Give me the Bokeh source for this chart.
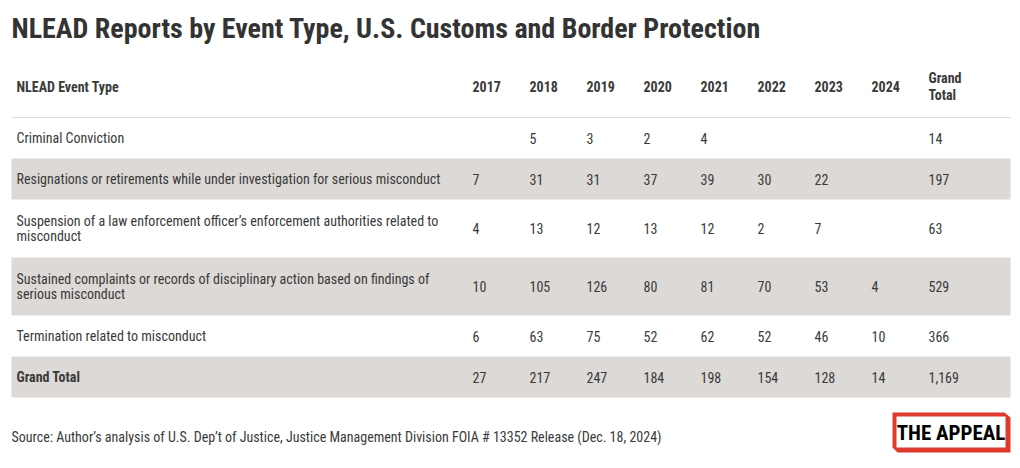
from bokeh.plotting import figure
from bokeh.models import Range1d
from bokeh.core.properties import value
from bokeh.embed import file_html
from bokeh.resources import INLINE

title = "NLEAD Reports by Event Type, U.S. Customs and Border Protection"
source_note = ("Source: Author\u2019s analysis of U.S. Dep\u2019t of Justice, Justice Management "
               "Division FOIA # 13352 Release (Dec. 18, 2024)")
first_col_header = "NLEAD Event Type"
col_headers = ["2017", "2018", "2019", "2020", "2021", "2022", "2023", "2024", "Grand\nTotal"]
event_types = [
    "Criminal Conviction",
    "Resignations or retirements while under investigation for serious misconduct",
    "Suspension of a law enforcement officer\u2019s enforcement authorities related to\nmisconduct",
    "Sustained complaints or records of disciplinary action based on findings of\nserious misconduct",
    "Termination related to misconduct",
    "Grand Total",
]
criminal_conviction = [None, 5, 3, 2, 4, None, None, None, 14]
resignations = [7, 31, 31, 37, 39, 30, 22, None, 197]
suspension = [4, 13, 12, 13, 12, 2, 7, None, 63]
sustained = [10, 105, 126, 80, 81, 70, 53, 4, 529]
termination = [6, 63, 75, 52, 62, 52, 46, 10, 366]
grand_total = [27, 217, 247, 184, 198, 154, 128, 14, 1169]
rows = [criminal_conviction, resignations, suspension, sustained, termination, grand_total]
logo_text = "THE APPEAL"

# ---- styling / layout ----
FONT = "Roboto Condensed"
TXT = "#3a3a3a"
BAND = "#dcd9d6"
LEFT, RIGHT = 11, 1010
LABEL_X = 16
COL_X0, COL_DX = 472, 57
HEAD_Y = 86
TABLE_TOP = 117
ROW_PAD, LINE_H = 24, 17

p = figure(width=1020, height=468, x_range=Range1d(0, 1020), y_range=Range1d(468, 0),
           output_backend="svg", toolbar_location=None, min_border=0,
           x_axis_location=None, y_axis_location=None)
p.grid.visible = False
p.outline_line_color = None
p.background_fill_color = "white"
p.border_fill_color = "white"

# title
p.text(x=[LEFT], y=[28], text=[title], text_font=value(FONT), text_font_style="bold",
       text_font_size="28px", text_color="#333333", text_baseline="middle")

# header
p.text(x=[LABEL_X], y=[HEAD_Y], text=[first_col_header], text_font=value(FONT),
       text_font_style="bold", text_font_size="14px", text_color=TXT, text_baseline="middle")
hx = [COL_X0 + COL_DX * i for i in range(len(col_headers))]
p.text(x=hx, y=[HEAD_Y] * len(hx), text=col_headers, text_font=value(FONT),
       text_font_style="bold", text_font_size="14px", text_color=TXT, text_baseline="middle",
       text_line_height=1.05)
p.segment(x0=[LEFT], x1=[RIGHT], y0=[TABLE_TOP], y1=[TABLE_TOP], line_color="#dddddd", line_width=1)

# rows
tops, bottoms = [], []
y = TABLE_TOP
for lab in event_types:
    n = lab.count("\n") + 1
    h = ROW_PAD + LINE_H * n
    tops.append(y)
    bottoms.append(y + h)
    y += h

band_idx = [i for i in range(len(rows)) if i % 2 == 1]
p.quad(left=[LEFT] * len(band_idx), right=[RIGHT] * len(band_idx),
       top=[tops[i] for i in band_idx], bottom=[bottoms[i] for i in band_idx],
       fill_color=BAND, line_color=None)

mids = [(t + b) / 2 for t, b in zip(tops, bottoms)]
for i, lab in enumerate(event_types):
    style = "bold" if lab == "Grand Total" else "normal"
    p.text(x=[LABEL_X], y=[mids[i]], text=[lab], text_font=value(FONT), text_font_style=style,
           text_font_size="14px", text_color=TXT, text_baseline="middle", text_line_height=0.97)

cx, cy, ct = [], [], []
for i, r in enumerate(rows):
    for j, v in enumerate(r):
        if v is None:
            continue
        cx.append(COL_X0 + COL_DX * j)
        cy.append(mids[i])
        ct.append(f"{v:,}")
p.text(x=cx, y=cy, text=ct, text_font=value(FONT), text_font_size="14px", text_color=TXT,
       text_baseline="middle")

# source
p.text(x=[LEFT], y=[436], text=[source_note], text_font=value(FONT), text_font_size="14px",
       text_color=TXT, text_baseline="middle")

# logo
RED = "#e03a2d"
p.patch(x=[892, 1004, 1010, 1010, 897, 892], y=[412, 412, 417, 452, 452, 447],
        fill_color=RED, line_color=None)
p.quad(left=[896], right=[1005], top=[416], bottom=[447], fill_color="white", line_color=None)
p.text(x=[950.5], y=[432], text=[logo_text], text_font=value(FONT), text_font_style="bold",
       text_font_size="21px", text_color="black", text_align="center", text_baseline="middle")

open("out.html", "w").write(file_html(p, INLINE))
